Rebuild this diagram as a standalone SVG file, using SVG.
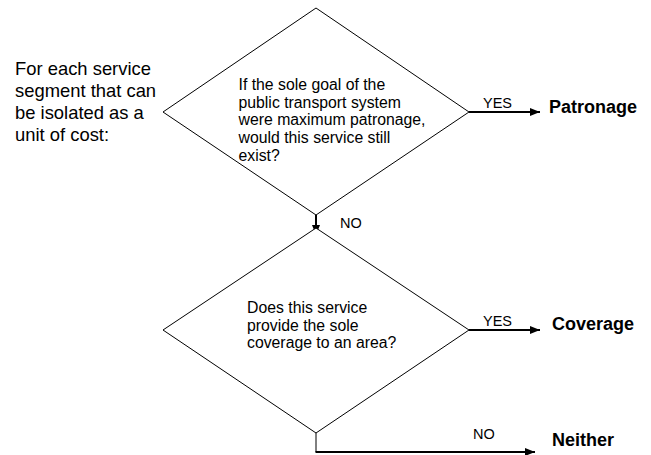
<svg xmlns="http://www.w3.org/2000/svg" width="651" height="455" viewBox="0 0 651 455">
<style>
.shape{fill:#fff;stroke:#000;stroke-width:1}
.q{font-family:"Liberation Sans",Arial,sans-serif;font-size:15.8px;fill:#000}
.lbl{font-family:"Liberation Sans",Arial,sans-serif;font-size:14.5px;fill:#000}
.out{font-family:"Liberation Sans",Arial,sans-serif;font-size:18px;font-weight:bold;fill:#000}
.intro{font-family:"Liberation Sans",Arial,sans-serif;font-size:18.4px;fill:#000}
.conn{fill:none;stroke:#000;stroke-width:2}
.thin{fill:none;stroke:#000;stroke-width:1}
</style>
<defs>
<marker id="ah" viewBox="0 0 10 8" refX="10" refY="4" markerWidth="10" markerHeight="8" markerUnits="userSpaceOnUse" orient="auto">
<path d="M0,0 L10,4 L0,8 Z" fill="#000"/>
</marker>
</defs>
<rect width="651" height="455" fill="#fff"/>
<g id="intro">
<text class="intro" x="15" y="75">For each service</text>
<text class="intro" x="15" y="97">segment that can</text>
<text class="intro" x="15" y="119">be isolated as a</text>
<text class="intro" x="15" y="141">unit of cost:</text>
</g>
<g id="connectors">
<line class="conn" x1="469" y1="112" x2="540" y2="112" marker-end="url(#ah)"/>
<line class="conn" x1="469" y1="330" x2="540" y2="330" marker-end="url(#ah)"/>
<line class="conn" x1="316" y1="215" x2="316" y2="235" marker-end="url(#ah)"/>
<line class="thin" x1="316" y1="433" x2="316" y2="452"/>
<line class="conn" x1="315.5" y1="452" x2="535" y2="452" marker-end="url(#ah)"/>
<text class="lbl" x="483" y="108">YES</text>
<text class="lbl" x="483" y="326">YES</text>
<text class="lbl" x="340" y="228">NO</text>
<text class="lbl" x="473" y="439">NO</text>
</g>
<g id="decision1">
<polygon class="shape" points="316,8 469,112 316,215 163,112"/>
<text class="q" x="238.5" y="90">If the sole goal of the</text>
<text class="q" x="238.5" y="107.7">public transport system</text>
<text class="q" x="238.5" y="125.4">were maximum patronage,</text>
<text class="q" x="238.5" y="143.1">would this service still</text>
<text class="q" x="238.5" y="160.8">exist?</text>
</g>
<g id="decision2">
<polygon class="shape" points="316,228 469,330 316,433 163,330"/>
<text class="q" x="247" y="313">Does this service</text>
<text class="q" x="247" y="330.7">provide the sole</text>
<text class="q" x="247" y="348.4">coverage to an area?</text>
</g>
<g id="patronage"><text class="out" x="549" y="113">Patronage</text></g>
<g id="coverage"><text class="out" x="552" y="330">Coverage</text></g>
<g id="neither"><text class="out" x="552" y="446">Neither</text></g>
</svg>
